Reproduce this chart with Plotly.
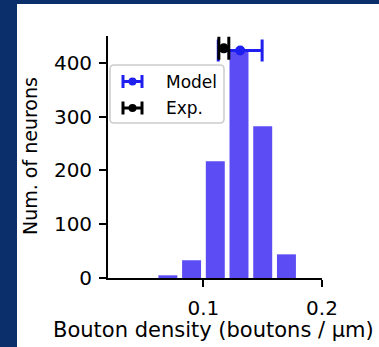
import plotly.graph_objects as go

# ---- data ----
bin_centers = [0.07, 0.09, 0.11, 0.13, 0.15, 0.17]
counts = [5, 33, 217, 425, 282, 44]
model_x = [0.131]
model_y = [423]
model_xerr = [0.0185]
exp_x = [0.1172]
exp_y = [427]
exp_xerr = [0.0042]
x_ticks = [0.1, 0.2]
x_ticklabels = ["0.1", "0.2"]
y_ticks = [0, 100, 200, 300, 400]
legend_labels = ["Model", "Exp."]
x_title = "Bouton density (boutons / µm)"
y_title = "Num. of neurons"

NAVY = "#0a2f6b"
BAR = "#5c4cf4"
BLUE = "#1f1ff0"
FONT = "DejaVu Sans"

W, H = 379, 347
ML, MR, MT, MB = 108, 57, 36, 69
PW, PH = W - ML - MR, H - MT - MB

def px2x(px):
    return (px - ML) / PW

def py2y(py):
    return (H - MB - py) / PH

fig = go.Figure()
fig.add_trace(go.Bar(x=bin_centers, y=counts, width=0.016, marker=dict(color=BAR, line=dict(width=0)),
                     showlegend=False))
fig.add_trace(go.Scatter(x=model_x, y=model_y, mode="markers", marker=dict(color=BLUE, size=10),
                         error_x=dict(type="data", array=model_xerr, color=BLUE, thickness=3, width=11),
                         showlegend=False))
fig.add_trace(go.Scatter(x=exp_x, y=exp_y, mode="markers", marker=dict(color="black", size=10),
                         error_x=dict(type="data", array=exp_xerr, color="black", thickness=3, width=11.5),
                         showlegend=False))

shapes = []
# white panel
shapes.append(dict(type="rect", xref="paper", yref="paper", x0=px2x(17), x1=px2x(W + 5),
                   y0=py2y(H + 5), y1=py2y(4), fillcolor="white", line=dict(width=0), layer="below"))
# legend box (rounded)
lx0, lx1, ly0, ly1, r = 110, 224, 65, 123, 4
path = (f"M {px2x(lx0 + r)},{py2y(ly0)} L {px2x(lx1 - r)},{py2y(ly0)} "
        f"Q {px2x(lx1)},{py2y(ly0)} {px2x(lx1)},{py2y(ly0 + r)} "
        f"L {px2x(lx1)},{py2y(ly1 - r)} Q {px2x(lx1)},{py2y(ly1)} {px2x(lx1 - r)},{py2y(ly1)} "
        f"L {px2x(lx0 + r)},{py2y(ly1)} Q {px2x(lx0)},{py2y(ly1)} {px2x(lx0)},{py2y(ly1 - r)} "
        f"L {px2x(lx0)},{py2y(ly0 + r)} Q {px2x(lx0)},{py2y(ly0)} {px2x(lx0 + r)},{py2y(ly0)} Z")
shapes.append(dict(type="path", xref="paper", yref="paper", path=path,
                   fillcolor="rgba(255,255,255,0.8)", line=dict(color="#cccccc", width=1.5), layer="above"))

annotations = []
for label, color, cy in zip(legend_labels, [BLUE, "black"], [81.5, 108]):
    gx0, gx1 = 123, 142
    shapes.append(dict(type="line", xref="paper", yref="paper", x0=px2x(gx0), x1=px2x(gx1),
                       y0=py2y(cy), y1=py2y(cy), line=dict(color=color, width=3), layer="above"))
    for gx in (gx0, gx1):
        shapes.append(dict(type="line", xref="paper", yref="paper", x0=px2x(gx), x1=px2x(gx),
                           y0=py2y(cy - 6.5), y1=py2y(cy + 6.5), line=dict(color=color, width=3), layer="above"))
    shapes.append(dict(type="circle", xref="paper", yref="paper", x0=px2x(128.5), x1=px2x(136.5),
                       y0=py2y(cy + 4), y1=py2y(cy - 4), fillcolor=color, line=dict(width=0), layer="above"))
    annotations.append(dict(text=label, xref="paper", yref="paper", x=px2x(164), y=py2y(cy),
                            xanchor="left", yanchor="middle", showarrow=False,
                            font=dict(family=FONT, size=17, color="black")))

# axis titles
annotations.append(dict(text=x_title, xref="paper", yref="paper", x=px2x(213), y=py2y(330),
                        xanchor="center", yanchor="middle", showarrow=False,
                        font=dict(family=FONT, size=21, color="black")))
annotations.append(dict(text=y_title, xref="paper", yref="paper", x=px2x(30), y=py2y(156),
                        xanchor="center", yanchor="middle", showarrow=False, textangle=-90,
                        font=dict(family=FONT, size=19, color="black")))

fig.update_layout(
    width=W, height=H,
    margin=dict(l=ML, r=MR, t=MT, b=MB),
    paper_bgcolor=NAVY, plot_bgcolor="white",
    shapes=shapes, annotations=annotations,
    showlegend=False,
    font=dict(family=FONT, size=20, color="black"),
    xaxis=dict(range=[0.0195, 0.2], tickvals=x_ticks, ticktext=x_ticklabels, showgrid=False, zeroline=False,
               showline=True, linecolor="black", linewidth=1.8, ticks="outside", ticklen=7, tickwidth=1.8,
               tickcolor="black", tickfont=dict(size=20), ticklabelstandoff=4),
    yaxis=dict(range=[0, 450], tickvals=y_ticks, showgrid=False, zeroline=False,
               showline=True, linecolor="black", linewidth=1.8, ticks="outside", ticklen=7, tickwidth=1.8,
               tickcolor="black", tickfont=dict(size=20), ticklabelstandoff=3),
)

fig.write_html("out.html")
